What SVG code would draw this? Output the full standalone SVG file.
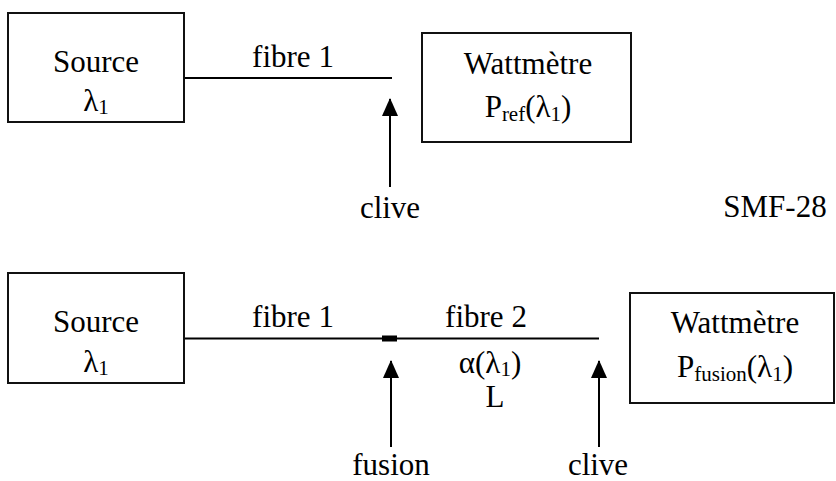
<svg xmlns="http://www.w3.org/2000/svg" width="836" height="481" viewBox="0 0 836 481">
<style>
.box{fill:#fff;stroke:#111;stroke-width:2}
.fib{stroke:#000;stroke-width:2;fill:none}
.arr{stroke:#000;stroke-width:2;fill:none}
.sub{font-size:21px}
</style>
<defs>
<marker id="ah" viewBox="0 0 18 16" refX="17" refY="8" markerWidth="18" markerHeight="16" markerUnits="userSpaceOnUse" orient="auto">
<path d="M0 0 L18 8 L0 16 Z" fill="#000"/>
</marker>
</defs>
<rect width="836" height="481" fill="#fff"/>
<g id="connectors">
<line class="fib" x1="184" y1="78" x2="392" y2="78"/>
<line class="arr" x1="390" y1="187" x2="390" y2="99" marker-end="url(#ah)"/>
<line class="fib" x1="184" y1="338.5" x2="599" y2="338.5"/>
<rect id="splice" x="382" y="335.5" width="15" height="6" fill="#000"/>
<line class="arr" x1="391" y1="447" x2="391" y2="361" marker-end="url(#ah)"/>
<line class="arr" x1="599" y1="447" x2="599" y2="361" marker-end="url(#ah)"/>
</g>
<g id="source1">
<rect class="box" x="8" y="13" width="176" height="109"/>
<text style="font-family:'Liberation Serif',serif" font-family="Liberation Serif" font-size="31" text-anchor="middle" x="96" y="72">Source</text>
<text style="font-family:'Liberation Serif',serif" font-family="Liberation Serif" font-size="31" text-anchor="middle" x="96" y="111">λ<tspan class="sub" dy="3">1</tspan></text>
</g>
<g id="wattmetre1">
<rect class="box" x="422" y="33" width="209" height="109"/>
<text style="font-family:'Liberation Serif',serif" font-family="Liberation Serif" font-size="31" text-anchor="middle" x="528" y="74">Wattmètre</text>
<text style="font-family:'Liberation Serif',serif" font-family="Liberation Serif" font-size="31" text-anchor="middle" x="528" y="117">P<tspan class="sub" dy="4">ref</tspan><tspan dy="-4">(λ</tspan><tspan class="sub" dy="4">1</tspan><tspan dy="-4">)</tspan></text>
</g>
<g id="labels1">
<text style="font-family:'Liberation Serif',serif" font-family="Liberation Serif" font-size="31" text-anchor="middle" x="293" y="67">fibre 1</text>
<text style="font-family:'Liberation Serif',serif" font-family="Liberation Serif" font-size="31" text-anchor="middle" x="390" y="218">clive</text>
<text style="font-family:'Liberation Serif',serif" font-family="Liberation Serif" font-size="31" text-anchor="middle" x="775" y="217">SMF-28</text>
</g>
<g id="source2">
<rect class="box" x="8" y="273" width="176" height="110"/>
<text style="font-family:'Liberation Serif',serif" font-family="Liberation Serif" font-size="31" text-anchor="middle" x="96" y="332">Source</text>
<text style="font-family:'Liberation Serif',serif" font-family="Liberation Serif" font-size="31" text-anchor="middle" x="96" y="372">λ<tspan class="sub" dy="3">1</tspan></text>
</g>
<g id="wattmetre2">
<rect class="box" x="630" y="293" width="204" height="110"/>
<text style="font-family:'Liberation Serif',serif" font-family="Liberation Serif" font-size="31" text-anchor="middle" x="735" y="333">Wattmètre</text>
<text style="font-family:'Liberation Serif',serif" font-family="Liberation Serif" font-size="31" text-anchor="middle" x="735" y="377">P<tspan class="sub" dy="4">fusion</tspan><tspan dy="-4">(λ</tspan><tspan class="sub" dy="4">1</tspan><tspan dy="-4">)</tspan></text>
</g>
<g id="labels2">
<text style="font-family:'Liberation Serif',serif" font-family="Liberation Serif" font-size="31" text-anchor="middle" x="293" y="327">fibre 1</text>
<text style="font-family:'Liberation Serif',serif" font-family="Liberation Serif" font-size="31" text-anchor="middle" x="486" y="327">fibre 2</text>
<text style="font-family:'Liberation Serif',serif" font-family="Liberation Serif" font-size="31" text-anchor="middle" x="490" y="373">α(λ<tspan class="sub" dy="3">1</tspan><tspan dy="-3">)</tspan></text>
<text style="font-family:'Liberation Serif',serif" font-family="Liberation Serif" font-size="31" text-anchor="middle" x="495" y="407">L</text>
<text style="font-family:'Liberation Serif',serif" font-family="Liberation Serif" font-size="31" text-anchor="middle" x="391" y="475">fusion</text>
<text style="font-family:'Liberation Serif',serif" font-family="Liberation Serif" font-size="31" text-anchor="middle" x="598" y="475">clive</text>
</g>
</svg>
